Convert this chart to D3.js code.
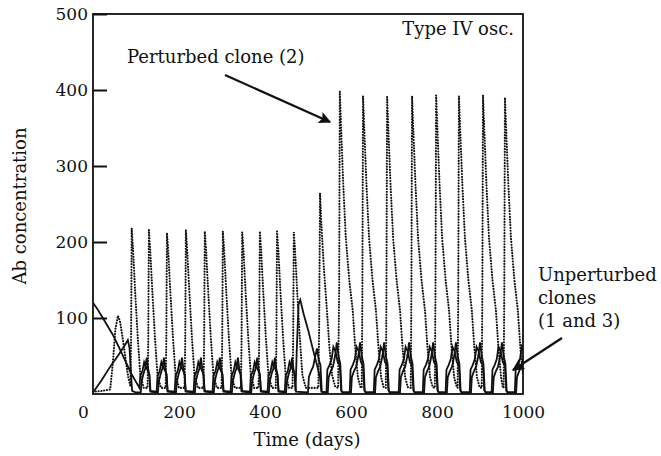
<!DOCTYPE html>
<html>
<head>
<meta charset="utf-8">
<script src="https://cdn.jsdelivr.net/npm/d3@7"></script>
<style>
  body { margin: 0; background: #fff; }
  svg text { font-family: "DejaVu Serif", serif; fill: #111; }
</style>
</head>
<body>
<svg id="chart" width="661" height="456"></svg>
<script>
// Ejes
const xTicks = [0, 200, 400, 600, 800, 1000];
const yTicks = [100, 200, 300, 400, 500];

// Clon perturbado (2) - punteado
const clone2 = [
  [0,3],[20,4],[40,6],[46,40],[52,85],[58,103],[63,95],[70,70],[76,45],[82,22],[87,10],
  [88.5,70],[90,218],[93,192],[98,135],[104,75],[110,25],[118,8],[127,8],
  [128.5,70],[130,216],[133,190],[138,135],[144,75],[150,25],[158,8],[169,8],
  [170.5,70],[172,212],[175,188],[180,133],[186,74],[192,25],[200,8],[213,8],
  [214.5,70],[216,216],[219,190],[224,135],[230,75],[236,25],[244,8],[257,8],
  [258.5,70],[260,214],[263,189],[268,134],[274,74],[280,25],[288,8],[299,8],
  [300.5,70],[302,214],[305,189],[310,134],[316,74],[322,25],[330,8],[344,8],
  [345.5,70],[347,213],[350,188],[355,133],[361,74],[367,25],[375,8],[385,8],
  [386.5,70],[388,214],[391,189],[396,134],[402,74],[408,25],[416,8],[425,8],
  [426.5,70],[428,214],[431,189],[436,134],[442,74],[448,25],[456,8],[464,8],
  [465.5,70],[467,213],[470,188],[475,133],[481,74],[487,25],[495,8],[524,8],
  [526,90],[528,264],[531,225],[537,165],[544,110],[550,60],[556,25],[563,10],[570,8],
  [572.5,140],[574,398],[577,350],[582,275],[588,205],[596,150],[604,110],[610,60],[616,22],[622,9],[625,8],
  [626.5,140],[628,392],[631,347],[636,275],[642,205],[650,150],[658,110],[664,60],[670,22],[676,9],[681,8],
  [682.5,140],[684,391],[687,346],[692,275],[698,205],[706,150],[714,110],[720,60],[726,22],[732,9],[739,8],
  [740.5,140],[742,392],[745,347],[750,275],[756,205],[764,150],[772,110],[778,60],[784,22],[790,9],[795,8],
  [796.5,140],[798,393],[801,348],[806,275],[812,205],[820,150],[828,110],[834,60],[840,22],[846,9],[848,8],
  [849.5,140],[851,392],[854,347],[859,275],[865,205],[873,150],[881,110],[887,60],[893,22],[899,9],[904,8],
  [905.5,140],[907,393],[910,348],[915,275],[921,205],[929,150],[937,110],[943,60],[949,22],[953,9],[955,8],
  [956.5,140],[958,390],[961,345],[966,275],[972,205],[980,150],[988,110],[994,60],[1000,25]
];

// Clones no perturbados (1 y 3) - linea continua
const clone1 = [
  [0,120],[10,112],[25,98],[46,78],[60,62],[74,45],[88,28],[98,18],[106,10],
  [108,8],[110,24],[115,30],[119,42],[123,36],[128,30],[131,26],[133,4],
  [148,3],[150,24],[155,30],[159,42],[163,36],[168,30],[171,26],[173,4],
  [190,3],[192,24],[197,30],[201,42],[205,36],[210,30],[213,26],[215,4],
  [234,3],[236,24],[241,30],[245,42],[249,36],[254,30],[257,26],[259,4],
  [278,3],[280,24],[285,30],[289,42],[293,36],[298,30],[301,26],[303,4],
  [320,3],[322,24],[327,30],[331,42],[335,36],[340,30],[343,26],[345,4],
  [365,3],[367,24],[372,30],[376,42],[380,36],[385,30],[388,26],[390,4],
  [406,3],[408,24],[413,30],[417,42],[421,36],[426,30],[429,26],[431,4],
  [446,3],[448,24],[453,30],[457,42],[461,36],[466,30],[469,26],[471,4],
  [474,60],[478,118],[482,124],[490,105],[500,85],[510,62],[520,40],[528,22],[531,3],
  [543,2],[545,32],[550,38],[555,46],[559,62],[564,56],[569,42],[574,38],[577,5],[580,2],
  [597,2],[599,32],[604,38],[609,46],[613,62],[618,56],[623,42],[628,38],[631,5],[634,2],
  [653,2],[655,32],[660,38],[665,46],[669,62],[674,56],[679,42],[684,38],[687,5],[690,2],
  [711,2],[713,32],[718,38],[723,46],[727,62],[732,56],[737,42],[742,38],[745,5],[748,2],
  [767,2],[769,32],[774,38],[779,46],[783,62],[788,56],[793,42],[798,38],[801,5],[804,2],
  [820,2],[822,32],[827,38],[832,46],[836,62],[841,56],[846,42],[851,38],[854,5],[857,2],
  [876,2],[878,32],[883,38],[888,46],[892,62],[897,56],[902,42],[907,38],[910,5],[913,2],
  [927,2],[929,32],[934,38],[939,46],[943,62],[948,56],[953,42],[958,38],[961,5],[964,2],
  [981,2],[983,32],[988,38],[993,46],[997,62],[1000,58]
];

const clone3 = [
  [0,2],[20,18],[40,36],[60,52],[74,64],[81,71],[85,60],[88,30],[91,4],[100,2],
  [111,2],[113,16],[117,26],[121,33],[125,48],[128,34],[131,25],[134,3],
  [151,2],[153,16],[157,26],[161,33],[165,48],[168,34],[171,25],[174,3],
  [193,2],[195,16],[199,26],[203,33],[207,48],[210,34],[213,25],[216,3],
  [237,2],[239,16],[243,26],[247,33],[251,48],[254,34],[257,25],[260,3],
  [281,2],[283,16],[287,26],[291,33],[295,48],[298,34],[301,25],[304,3],
  [323,2],[325,16],[329,26],[333,33],[337,48],[340,34],[344,25],[347,3],
  [368,2],[370,16],[374,26],[378,33],[382,48],[385,34],[388,25],[391,3],
  [409,2],[411,16],[415,26],[419,33],[423,48],[426,34],[429,25],[432,3],
  [449,2],[451,16],[455,26],[459,33],[463,48],[466,34],[469,25],[472,3],
  [500,2],[502,22],[507,30],[512,36],[517,50],[521,60],[525,45],[529,38],[532,4],[535,2],
  [546,2],[548,22],[553,30],[558,36],[563,50],[567,68],[571,50],[575,40],[578,4],[581,2],
  [600,2],[602,22],[607,30],[612,36],[617,50],[621,68],[625,50],[629,40],[632,4],[635,2],
  [656,2],[658,22],[663,30],[668,36],[673,50],[677,68],[681,50],[685,40],[688,4],[691,2],
  [714,2],[716,22],[721,30],[726,36],[731,50],[735,68],[739,50],[743,40],[746,4],[749,2],
  [770,2],[772,22],[777,30],[782,36],[787,50],[791,68],[795,50],[799,40],[802,4],[805,2],
  [823,2],[825,22],[830,30],[835,36],[840,50],[844,68],[848,50],[852,40],[855,4],[858,2],
  [879,2],[881,22],[886,30],[891,36],[896,50],[900,68],[904,50],[908,40],[911,4],[914,2],
  [930,2],[932,22],[937,30],[942,36],[947,50],[951,68],[955,50],[959,40],[962,4],[965,2],
  [984,2],[986,22],[991,30],[996,36],[1000,45]
];

const svg = d3.select("#chart");
const pLeft = 93, pRight = 523, pTop = 14, pBottom = 394;

const x = d3.scaleLinear().domain([0, 1000]).range([pLeft, pRight]);
const y = d3.scaleLinear().domain([0, 500]).range([pBottom, pTop]);

svg.append("clipPath").attr("id", "plot")
  .append("rect")
  .attr("x", pLeft).attr("y", pTop)
  .attr("width", pRight - pLeft).attr("height", pBottom - pTop);

const line = d3.line().x(d => x(d[0])).y(d => y(d[1]));

const g = svg.append("g").attr("clip-path", "url(#plot)");

// Clones 1 y 3
[clone1, clone3].forEach(s => {
  g.append("path")
    .attr("d", line(s))
    .attr("fill", "none")
    .attr("stroke", "#111")
    .attr("stroke-width", 1.8);
});

// Clon 2 punteado
g.append("path")
  .attr("d", line(clone2))
  .attr("fill", "none")
  .attr("stroke", "#111")
  .attr("stroke-width", 2.1)
  .attr("stroke-linecap", "round")
  .attr("stroke-dasharray", "0.1 2.7");

// Marco
svg.append("rect")
  .attr("x", pLeft).attr("y", pTop)
  .attr("width", pRight - pLeft).attr("height", pBottom - pTop)
  .attr("fill", "none")
  .attr("stroke", "#111")
  .attr("stroke-width", 1.8);

// Eje Y (ticks hacia adentro)
const yAxis = svg.append("g")
  .attr("transform", `translate(${pLeft},0)`)
  .call(d3.axisLeft(y).tickValues(yTicks).tickSize(-14).tickPadding(5));
yAxis.select(".domain").remove();
yAxis.selectAll("line").attr("stroke", "#111").attr("stroke-width", 2);
yAxis.selectAll("text").attr("font-size", 17).attr("font-family", "DejaVu Serif");

// Eje X
const xAxis = svg.append("g")
  .attr("transform", `translate(0,${pBottom})`)
  .call(d3.axisBottom(x).tickValues(xTicks).tickSize(0).tickPadding(12)
    .tickFormat(d3.format("d")));
xAxis.select(".domain").remove();
xAxis.selectAll("text").attr("font-size", 17).attr("font-family", "DejaVu Serif")
  .attr("dx", d => d === 0 ? -10 : 0);

// Titulos de ejes
svg.append("text")
  .attr("transform", "translate(26,206) rotate(-90)")
  .attr("text-anchor", "middle")
  .attr("font-size", 18)
  .text("Ab concentration");

svg.append("text")
  .attr("x", 307).attr("y", 446)
  .attr("text-anchor", "middle")
  .attr("font-size", 18)
  .text("Time (days)");

// Anotaciones
svg.append("text")
  .attr("x", 514).attr("y", 35)
  .attr("text-anchor", "end")
  .attr("font-size", 18)
  .text("Type IV osc.");

svg.append("text")
  .attr("x", 127).attr("y", 63)
  .attr("font-size", 18)
  .text("Perturbed clone (2)");

["Unperturbed", "clones", "(1 and 3)"].forEach((t, i) => {
  svg.append("text")
    .attr("x", 538).attr("y", 281 + i * 23)
    .attr("font-size", 18)
    .text(t);
});

// Flechas
svg.append("defs").append("marker")
  .attr("id", "head")
  .attr("viewBox", "0 0 10 10")
  .attr("refX", 9).attr("refY", 5)
  .attr("markerWidth", 20).attr("markerHeight", 12)
  .attr("markerUnits", "userSpaceOnUse")
  .attr("orient", "auto")
  .append("path")
  .attr("d", "M0,0 L10,5 L0,10 L2,5 Z")
  .attr("fill", "#111");

[[225, 75, 330, 122], [562, 338, 513, 370]].forEach(a => {
  svg.append("line")
    .attr("x1", a[0]).attr("y1", a[1])
    .attr("x2", a[2]).attr("y2", a[3])
    .attr("stroke", "#111")
    .attr("stroke-width", 2.2)
    .attr("marker-end", "url(#head)");
});
</script>
</body>
</html>
